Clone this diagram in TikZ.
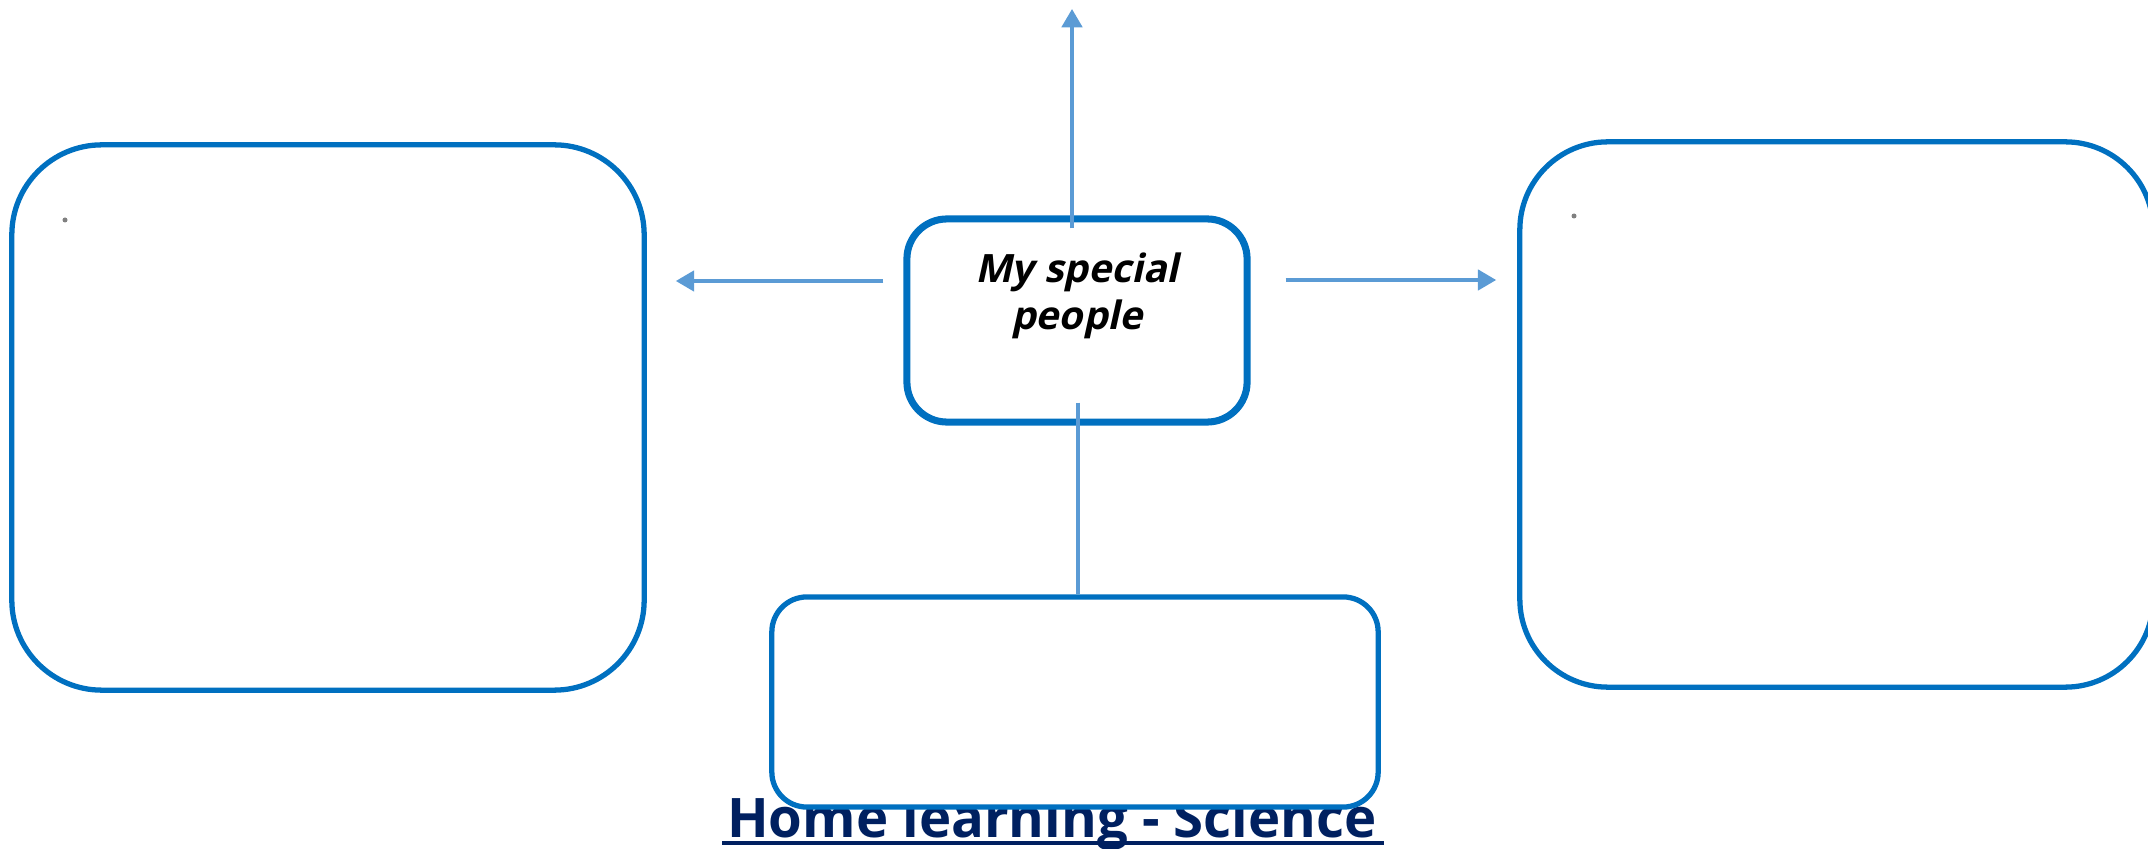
\documentclass[tikz,border=0pt]{standalone}
\usepackage{fontspec}
\newfontfamily\osans{Open Sans}
\newfontfamily\hubfont{Open Sans}[FakeSlant=0.22]
\usetikzlibrary{arrows.meta}
\definecolor{boxblue}{HTML}{0070C0}
\definecolor{arrblue}{HTML}{5B9BD5}
\definecolor{navy}{HTML}{002060}
\definecolor{dotgray}{HTML}{808080}
\tikzset{
  panel/.style={draw=boxblue, line width=1.5pt, fill=white, rectangle, inner sep=0pt},
  hub/.style={draw=boxblue, line width=2pt, fill=white, rectangle, inner sep=0pt, rounded corners=0.4cm},
  arr/.style={draw=arrblue, line width=1pt, -{Triangle[length=5.2pt,width=5.8pt]}},
  conn/.style={draw=arrblue, line width=1pt},
  bullet/.style={circle, fill=dotgray, inner sep=0pt, minimum size=0.05cm},
}
\begin{document}
\begin{tikzpicture}[x=0.01cm, y=-0.01cm]
\useasboundingbox (0,0) rectangle (2148,849);
% title (drawn first, partly covered by the bottom panel)
\node[anchor=base, inner sep=0pt, text=navy, font={\osans\bfseries\fontsize{15.5}{18}\selectfont}] (title) at (1052,837) {Home learning - Science};
\draw[navy, line width=1.2pt] ([xshift=-0.04cm, yshift=-0.06cm]title.base west) -- ([xshift=0.06cm, yshift=-0.06cm]title.base east);
% panels
\node[panel, rounded corners=0.9cm, minimum width=6.32cm, minimum height=5.45cm] (left) at (328,417.5) {};
\node[panel, rounded corners=0.88cm, minimum width=6.33cm, minimum height=5.45cm] (right) at (1836.5,414.5) {};
\node[panel, rounded corners=0.35cm, minimum width=6.06cm, minimum height=2.10cm] (bottom) at (1075,702) {};
\node[hub, minimum width=3.40cm, minimum height=2.03cm] (hub) at (1077,320.5) {};
\node[align=center, inner sep=0pt, font={\hubfont\bfseries\fontsize{11.1}{13.3}\selectfont}] (hubtext) at (1077,296) {My special\\people};
% bullets
\node[bullet] (b1) at (65,220) {};
\node[bullet] (b2) at (1574,216) {};
% connectors
\coordinate (upend) at (1072,9);
\coordinate (ay) at (0,281);
\coordinate (by) at (0,280);
\coordinate (bx) at (1078,0);
\draw[arr, shorten <=-0.13cm] (hub.north -| upend) -- (upend);
\draw[arr, shorten <=0.20cm, shorten >=0.29cm] (hub.west |- ay) -- (left.east |- ay);
\draw[arr, shorten <=0.35cm, shorten >=0.21cm] (hub.east |- by) -- (right.west |- by);
\draw[conn, shorten <=-0.23cm] (hub.south -| bx) -- (bottom.north -| bx);
\end{tikzpicture}
\end{document}
